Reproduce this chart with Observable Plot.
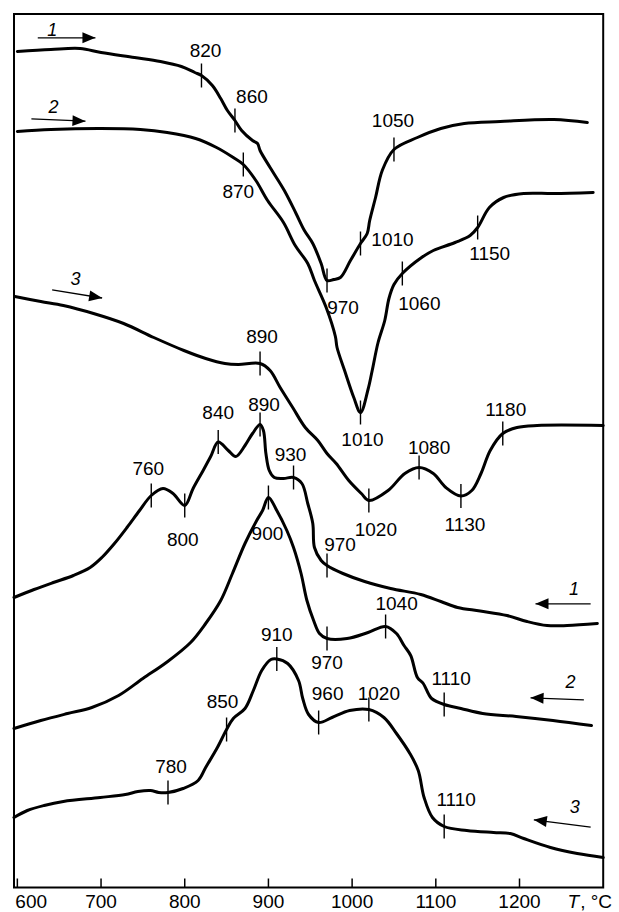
<!DOCTYPE html>
<html>
<head>
<meta charset="utf-8">
<script src="https://cdn.jsdelivr.net/npm/d3@7"></script>
<script src="https://cdn.jsdelivr.net/npm/@observablehq/plot@0.6"></script>
<style>
  html, body { margin: 0; padding: 0; background: #fff; }
  #chart svg { display: block; }
</style>
</head>
<body>
<div id="chart"></div>
<script>
// DTA traces of three samples: heating runs (1–3, upper group) and cooling runs (1–3, lower group).
// Each point is [temperature °C, signal in arbitrary offset units].
const heating1 = [[600,836],[640,838],[675,839],[700,835],[740,830],[771,826],[796,821],[812,815],[820,812],[833,802],[843,789],[851,777],[860,767],[868,757],[881,747],[887,744],[890,737],[902,720],[919,697],[933,674],[943,657],[953,644],[963,624],[970,607],[978,608],[986,610],[998,627],[1010,644],[1018,654],[1021,667],[1028,690],[1036,717],[1050,738],[1078,750],[1106,759],[1134,764],[1177,766],[1241,768],[1281,765]];
const heating2 = [[600,756],[640,758],[700,759],[747,758],[779,755],[813,749],[838,740],[858,730],[870,723],[885,707],[899,687],[918,665],[932,642],[947,624],[955,607],[969,580],[980,551],[982,540],[991,517],[1002,490],[1010,475],[1019,498],[1024,517],[1031,545],[1039,567],[1044,589],[1050,603],[1060,614],[1083,630],[1097,637],[1123,645],[1141,652],[1150,660],[1164,680],[1181,690],[1205,694],[1241,694],[1288,695]];
const heating3 = [[597,591],[628,586],[655,582],[691,574],[727,564],[763,550],[799,537],[825,529],[848,524],[864,523],[890,524],[902,517],[914,500],[929,480],[944,460],[959,447],[970,434],[981,424],[996,407],[1011,394],[1020,387],[1043,397],[1063,414],[1080,420],[1097,414],[1112,400],[1130,391.5],[1143,397],[1154,414],[1165,437],[1180,454],[1197,460],[1221,462],[1300,462]];
const cooling1 = [[596,290],[620,298],[643,305],[667,312],[687,320],[701,330],[716,344],[731,360],[746,377],[760,392],[774,399],[786,394],[800,382],[810,399],[822,417],[831,431],[840,445.5],[852,437],[861,431],[872,442],[881,454],[890,463],[894,457],[897,434],[901,417],[907,410],[918,409],[930,410],[940,404],[947,384],[953,364],[955,340],[963,327],[970,322],[989,314],[1015,306],[1046,299],[1082,293],[1106,286],[1126,280],[1153,276.5],[1185,272],[1209,266],[1233,262],[1257,262],[1293,264]];
const cooling2 = [[596,159],[628,167],[660,174],[689,180],[721,192],[750,209],[778,225],[807,245],[825,264],[843,287],[857,314],[872,344],[886,367],[893,377],[900,390],[910,377],[922,357],[930,340],[939,314],[946,287],[954,267],[961,254],[970,249],[994,249],[1019,255],[1040,261],[1053,254],[1062,242],[1070,232],[1078,210],[1085,204],[1091,194],[1095,189],[1110,183],[1130,179],[1156,174],[1196,171],[1240,167],[1286,162]];
const cooling3 = [[596,70],[612,77],[632,82],[655,86],[699,90],[729,93],[744,96],[759,97],[769,95],[780,95],[798,99],[816,107],[825,120],[839,140],[850,158],[858,169],[872,179],[882,197],[892,217],[903,228],[910,228.5],[923,224],[936,207],[941,189],[948,173],[960,165],[976,170],[997,177],[1020,178],[1038,170],[1053,154],[1069,134],[1079,117],[1086,90],[1096,70],[1110,61],[1137,57],[1169,55],[1189,54],[1205,49],[1237,40],[1269,34],[1300,30]];

// Characteristic temperatures marked on each trace (°C)
const heating1Marks = [820, 860, 970, 1010, 1050];
const heating2Marks = [870, 1010, 1060, 1150];
const heating3Marks = [890, 1020, 1080, 1130, 1180];
const cooling1Marks = [760, 800, 840, 890, 930, 970];
const cooling2Marks = [900, 970, 1040, 1110];
const cooling3Marks = [780, 850, 910, 960, 1020, 1110];

// Axis ticks (°C)
const xTicks = [600, 700, 800, 900, 1000, 1100, 1200];

// Run-direction arrows: start and end as [°C, signal], numbered by sample
const runLabels = ["1", "2", "3", "1", "2", "3"];
const runArrowFrom = [[624.4,849.7],[616.8,768.7],[641.6,597.7],[1285,283.7],[1276.9,187.7],[1285,60.3]];
const runArrowTo   = [[693.3,849.7],[681.4,766.3],[701.3,589.5],[1219.1,283.7],[1213.2,189.7],[1217.1,67.7]];
const runLabelAt   = [[641.6,857.5],[643.1,780.3],[669.4,608],[1265,298.7],[1261,205.3],[1265.9,80.3]];

// ---- layout (pixels) ----
const width = 619, height = 912;
const marginLeft = 13.5, marginRight = 16.3, marginTop = 13.5, marginBottom = 25;
const xDomain = [596, 1300];
const yDomain = [0, 873.5];
const font = "'Liberation Sans', Arial, Helvetica, sans-serif";
const axisLabelDy = 14.5;

// where each temperature label sits relative to its marker [dx, dy]
const markLabelOffsets = {
  heating1: [[4,-25],[17,-24],[16,27],[32,-4],[-1,-29]],
  heating2: [[-5,27],[2,27],[17,30],[12,26]],
  heating3: [[2,-27],[7,29],[10,-20],[4,29],[3,-24]],
  cooling1: [[-3,-27],[-2,34],[0,-29],[4,-20],[-3,-23],[13,-21]],
  cooling2: [[-1,36],[0,24],[11,-23],[7,-26]],
  cooling3: [[3,-26],[-4,-28],[0,-24],[9,-29],[10,-16],[12,-27]]
};

const traces = [
  {key: "heating1", data: heating1, marks: heating1Marks},
  {key: "heating2", data: heating2, marks: heating2Marks},
  {key: "heating3", data: heating3, marks: heating3Marks},
  {key: "cooling1", data: cooling1, marks: cooling1Marks},
  {key: "cooling2", data: cooling2, marks: cooling2Marks},
  {key: "cooling3", data: cooling3, marks: cooling3Marks}
];

// signal of a trace at temperature t (linear between samples)
function valueAt(curve, t) {
  for (let i = 1; i < curve.length; i++) {
    const [t0, v0] = curve[i - 1], [t1, v1] = curve[i];
    if (t >= t0 && t <= t1) return t1 === t0 ? v0 : v0 + (v1 - v0) * (t - t0) / (t1 - t0);
  }
  return curve[curve.length - 1][1];
}

const markRows = traces.flatMap(tr => tr.marks.map((t, i) => ({
  t, v: valueAt(tr.data, t),
  dx: markLabelOffsets[tr.key][i][0], dy: markLabelOffsets[tr.key][i][1]
})));

// pixel scales used only to orient the arrowheads
const xs = d3.scaleLinear(xDomain, [marginLeft, width - marginRight]);
const ys = d3.scaleLinear(yDomain, [height - marginBottom, marginTop]);
const arrows = runLabels.map((label, i) => ({
  label,
  x1: runArrowFrom[i][0], y1: runArrowFrom[i][1],
  x2: runArrowTo[i][0], y2: runArrowTo[i][1],
  lx: runLabelAt[i][0], ly: runLabelAt[i][1],
  angle: Math.atan2(ys(runArrowTo[i][1]) - ys(runArrowFrom[i][1]), xs(runArrowTo[i][0]) - xs(runArrowFrom[i][0])) * 180 / Math.PI
}));

// symbols
const markTick = {draw(ctx) { ctx.moveTo(0, -12); ctx.lineTo(0, 12); }};
const axisTick = {draw(ctx) { ctx.moveTo(0, 0); ctx.lineTo(0, -9); }};
const arrowHead = {draw(ctx) { ctx.moveTo(0, 0); ctx.lineTo(-13, -5.5); ctx.lineTo(-13, 5.5); ctx.closePath(); }};

const chart = Plot.plot({
  width, height, marginLeft, marginRight, marginTop, marginBottom,
  x: {domain: xDomain, axis: null},
  y: {domain: yDomain, axis: null},
  style: {fontFamily: font, fontSize: "19px", color: "black", background: "white"},
  marks: [
    Plot.frame({stroke: "black", strokeWidth: 2}),
    // traces
    ...traces.map(tr => Plot.line(tr.data, {
      x: d => d[0], y: d => d[1], curve: "catmull-rom",
      stroke: "black", strokeWidth: 3, strokeLinejoin: "round", strokeLinecap: "round"
    })),
    // characteristic-temperature markers and labels
    Plot.dot(markRows, {x: "t", y: "v", symbol: markTick, stroke: "black", strokeWidth: 1.4, fill: "none"}),
    ...markRows.map(r => Plot.text([r], {
      x: "t", y: "v", text: d => String(d.t), dx: r.dx, dy: r.dy,
      lineAnchor: "middle", textAnchor: "middle", fontSize: 19, fill: "black"
    })),
    // run-direction arrows
    Plot.link(arrows, {x1: "x1", y1: "y1", x2: "x2", y2: "y2", stroke: "black", strokeWidth: 1.3}),
    Plot.dot(arrows, {x: "x2", y: "y2", symbol: arrowHead, rotate: "angle", fill: "black", stroke: "none"}),
    Plot.text(arrows, {x: "lx", y: "ly", text: "label", fontStyle: "italic", fontSize: 18, lineAnchor: "middle", fill: "black"}),
    // temperature axis (inward ticks)
    Plot.dot(xTicks, {x: d => d, y: () => yDomain[0], symbol: axisTick, stroke: "black", strokeWidth: 1.5, fill: "none"}),
    Plot.text(xTicks.filter(d => d > xTicks[0]), {x: d => d, y: () => yDomain[0], text: d => String(d), dy: axisLabelDy, lineAnchor: "middle", fontSize: 19, fill: "black"}),
    Plot.text([xTicks[0]], {x: d => d, y: () => yDomain[0], text: d => String(d), dy: axisLabelDy, dx: -2, textAnchor: "start", lineAnchor: "middle", fontSize: 19, fill: "black"}),
    Plot.text(["T"], {x: () => xDomain[1], y: () => yDomain[0], text: d => d, dx: -24, dy: axisLabelDy, textAnchor: "end", lineAnchor: "middle", fontStyle: "italic", fontSize: 19, fill: "black"}),
    Plot.text([", °C"], {x: () => xDomain[1], y: () => yDomain[0], text: d => d, dx: -23, dy: axisLabelDy, textAnchor: "start", lineAnchor: "middle", fontSize: 19, fill: "black"})
  ]
});

document.getElementById("chart").appendChild(chart);
</script>
</body>
</html>
